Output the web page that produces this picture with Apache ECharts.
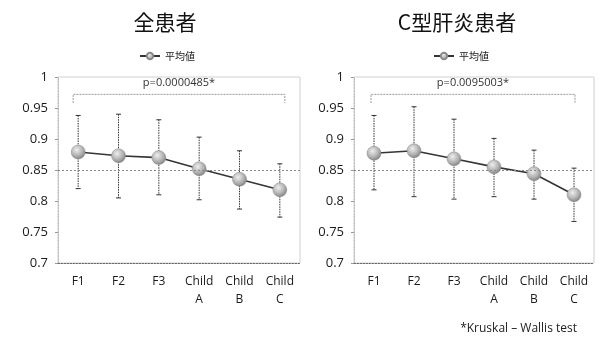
<!DOCTYPE html>
<html><head><meta charset="utf-8">
<script src="https://cdn.jsdelivr.net/npm/echarts@6/dist/echarts.min.js"></script>
<style>html,body{margin:0;padding:0;background:#fff}#c{width:602px;height:338px}</style>
</head><body><div id="c"></div>
<script>
var categories = ['F1','F2','F3','Child\nA','Child\nB','Child\nC'];
var yTicks = [0.7,0.75,0.8,0.85,0.9,0.95,1];
var allMean  = [0.879,0.873,0.870,0.852,0.835,0.818];
var allUpper = [0.938,0.940,0.931,0.903,0.881,0.860];
var allLower = [0.820,0.805,0.810,0.802,0.787,0.774];
var allRef = 0.851;
var allP = 'p=0.0000485*';
var hcvMean  = [0.877,0.881,0.868,0.855,0.844,0.810];
var hcvUpper = [0.938,0.952,0.932,0.901,0.882,0.853];
var hcvLower = [0.818,0.807,0.803,0.807,0.803,0.767];
var hcvRef = 0.853;
var hcvP = 'p=0.0095003*';
var bracketTop = 0.972, bracketFoot = 0.958, pTextY = 0.990;

var font = '"Open Sans", "Noto Sans CJK JP", sans-serif';
var chart = echarts.init(document.getElementById('c'));

function errSeries(idx, upper, lower){
  return {
    type:'custom', xAxisIndex:idx, yAxisIndex:idx, z:3,
    data: upper.map(function(u,i){return [i,u,lower[i]];}),
    renderItem:function(params, api){
      var x = api.value(0);
      var p1 = api.coord([x, api.value(1)]);
      var p2 = api.coord([x, api.value(2)]);
      var st = {stroke:'#333', lineWidth:1};
      return {type:'group', children:[
        {type:'line', shape:{x1:p1[0],y1:p1[1],x2:p2[0],y2:p2[1]}, style:{stroke:'#333',lineWidth:1,lineDash:[1.5,1]}},
        {type:'line', shape:{x1:p1[0]-2.5,y1:p1[1],x2:p1[0]+2.5,y2:p1[1]}, style:st},
        {type:'line', shape:{x1:p2[0]-2.5,y1:p2[1],x2:p2[0]+2.5,y2:p2[1]}, style:st}
      ]};
    }
  };
}
function bracketSeries(idx, ptext, dl, dr){
  return {
    type:'custom', xAxisIndex:idx, yAxisIndex:idx, z:2, silent:true,
    data:[[0, categories.length-1, bracketTop, bracketFoot, pTextY]],
    renderItem:function(params, api){
      var a = api.coord([api.value(0), api.value(2)]);
      var b = api.coord([api.value(1), api.value(2)]);
      var f = api.coord([api.value(0), api.value(3)]);
      var t = api.coord([api.value(0), api.value(4)]);
      var xl = a[0]+dl, xr = b[0]+dr;
      var st = {stroke:'#999', lineWidth:1, lineDash:[2,1], fill:null};
      return {type:'group', children:[
        {type:'polyline', shape:{points:[[xl,f[1]],[xl,a[1]],[xr,a[1]],[xr,f[1]]]}, style:st},
        {type:'text', style:{text:ptext, x:(xl+xr)/2, y:t[1], align:'center', verticalAlign:'middle', fill:'#333', font:'11px '+font}}
      ]};
    }
  };
}
function meanSeries(idx, data){
  return {
    name:'平均値', type:'line', xAxisIndex:idx, yAxisIndex:idx, z:4,
    data:data, symbol:'circle', symbolSize:14,
    lineStyle:{color:'#353535', width:1.6},
    itemStyle:{color:{type:'radial',x:0.4,y:0.35,r:0.7,colorStops:[{offset:0,color:'#eeeeee'},{offset:0.6,color:'#b0b0b0'},{offset:1,color:'#7a7a7a'}]}, borderColor:'#8a8a8a', borderWidth:0.5}
  };
}
function refSeries(idx, v){
  return {
    type:'line', xAxisIndex:idx, yAxisIndex:idx, data:[], silent:true,
    markLine:{symbol:'none', silent:true, label:{show:false},
      lineStyle:{color:'#888', type:[2,2], width:1}, data:[{yAxis:v}]}
  };
}
function xAx(idx){
  return {type:'category', gridIndex:idx, data:categories, boundaryGap:true,
    axisLine:{lineStyle:{color:'#666', type:[1.5,1.5]}},
    axisTick:{inside:true, length:3, lineStyle:{color:'#999'}},
    axisLabel:{color:'#1a1a1a', fontSize:12, lineHeight:18, margin:10, fontFamily:font}};
}
function yAx(idx){
  return {type:'value', gridIndex:idx, min:0.7, max:1, interval:0.05,
    axisLine:{show:true, lineStyle:{color:'#bbb', type:[1.5,1.5]}},
    axisTick:{show:true, length:3, lineStyle:{color:'#999'}},
    splitLine:{show:false},
    axisLabel:{color:'#1a1a1a', fontSize:13, margin:10, fontFamily:font,
      formatter:function(v){ for(var i=0;i<yTicks.length;i++){ if(Math.abs(yTicks[i]-v)<1e-9) return String(yTicks[i]); } return ''; }}};
}

chart.setOption({
  animation:false,
  title:[
    {text:'全患者', left:160, top:7, textAlign:'center', textStyle:{fontSize:21, fontWeight:'normal', color:'#111', fontFamily:'"Noto Sans CJK JP", sans-serif'}},
    {text:'C型肝炎患者', left:452, top:7, textAlign:'center', textStyle:{fontSize:21, fontWeight:'normal', color:'#111', fontFamily:'"Noto Sans CJK JP", sans-serif'}},
    {text:'*Kruskal – Wallis test', right:20, top:318, textStyle:{fontSize:12, fontWeight:'normal', color:'#222', fontFamily:font}}
  ],
  legend:[
    {data:['平均値'], left:134, top:46, itemWidth:20, itemHeight:8, itemGap:4, textStyle:{fontSize:10, color:'#222', fontFamily:'"Noto Sans CJK JP", sans-serif'}},
    {data:['平均値'], left:428, top:46, itemWidth:20, itemHeight:8, itemGap:4, textStyle:{fontSize:10, color:'#222', fontFamily:'"Noto Sans CJK JP", sans-serif'}}
  ],
  grid:[
    {left:58, top:77, width:242, height:186, show:true, borderColor:'#d0d0d0', borderWidth:1},
    {left:354, top:77, width:240, height:186, show:true, borderColor:'#d0d0d0', borderWidth:1}
  ],
  xAxis:[xAx(0), xAx(1)],
  yAxis:[yAx(0), yAx(1)],
  series:[
    refSeries(0, allRef), refSeries(1, hcvRef),
    bracketSeries(0, allP, -5, 5), bracketSeries(1, hcvP, -3, 1),
    errSeries(0, allUpper, allLower), errSeries(1, hcvUpper, hcvLower),
    meanSeries(0, allMean), meanSeries(1, hcvMean)
  ]
});
</script></body></html>
